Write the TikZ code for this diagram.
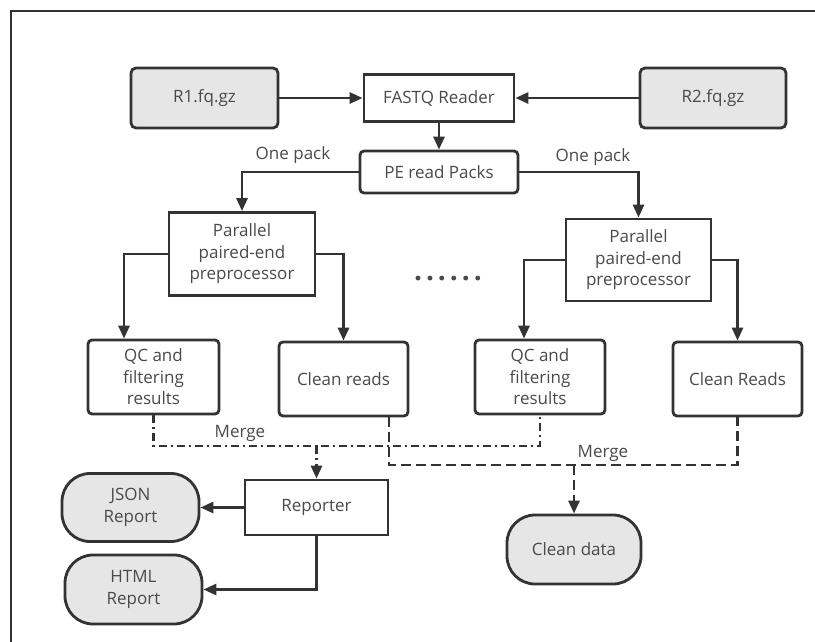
\documentclass[tikz,border=0pt]{standalone}
\usepackage{fontspec}
\setmainfont{Open Sans}
\usetikzlibrary{arrows.meta}
\definecolor{ln}{HTML}{333333}
\definecolor{tx}{HTML}{4A4A4A}
\definecolor{gf}{HTML}{E6E6E6}
\tikzset{
  base/.style={draw=ln, line width=2.8pt, text=tx, inner sep=0pt, align=center,
    font=\fontsize{17}{21.5}\selectfont},
  sq/.style={base, fill=white},
  rd/.style={base, fill=white, rounded corners=4pt},
  gr/.style={base, fill=gf, rounded corners=5pt},
  term/.style={base, fill=gf, rounded corners=28pt},
  lbl/.style={text=tx, inner sep=0pt, font=\fontsize{17}{21.5}\selectfont},
  conn/.style={draw=ln, line width=2.8pt},
  arr/.style={conn, -{Triangle[length=13pt,width=11pt]}},
  dashdotline/.style={dash pattern=on 8pt off 4pt on 2pt off 4pt},
  dashline/.style={dash pattern=on 10pt off 5pt},
}
\begin{document}
\begin{tikzpicture}[x=1pt,y=-1pt]
\useasboundingbox (0,0) rectangle (815,641);
\draw[draw=ln, line width=2.8pt] (11,645) -- (11,11) -- (819,11);

\node[gr, minimum width=147pt, minimum height=60pt] (r1) at (204.5,98) {R1.fq.gz};
\node[sq, minimum width=150pt, minimum height=47pt] (fastq) at (439,98) {FASTQ Reader};
\node[gr, minimum width=146pt, minimum height=60pt] (r2) at (713,98) {R2.fq.gz};
\node[rd, minimum width=158pt, minimum height=42pt] (pe) at (439,172) {PE read Packs};
\node[sq, minimum width=146pt, minimum height=83pt] (par1) at (242,254) {Parallel\\paired-end\\preprocessor};
\node[sq, minimum width=145pt, minimum height=82pt] (par2) at (638.5,260) {Parallel\\paired-end\\preprocessor};
\node[rd, minimum width=131pt, minimum height=74pt] (qc1) at (153.5,377) {QC and\\filtering\\results};
\node[rd, minimum width=129pt, minimum height=74pt] (cr1) at (343.5,379) {Clean reads};
\node[rd, minimum width=130pt, minimum height=74pt] (qc2) at (540,377) {QC and\\filtering\\results};
\node[rd, minimum width=129pt, minimum height=74pt] (cr2) at (737.5,379) {Clean Reads};
\node[sq, minimum width=143pt, minimum height=55pt] (rep) at (316.5,507.5) {Reporter};
\node[term, minimum width=137pt, minimum height=68pt] (json) at (130.5,507.5) {JSON\\Report};
\node[term, minimum width=137pt, minimum height=69pt] (html) at (133.5,589.5) {HTML\\Report};
\node[term, minimum width=134pt, minimum height=69pt] (clean) at (574,549.5) {Clean data};

\node[lbl] (op1) at (293,155) {One pack};
\node[lbl] (op2) at (593,157) {One pack};
\node[lbl] (mg1t) at (240,433) {Merge};
\node[lbl] (mg2t) at (603,453) {Merge};
\node[lbl, anchor=base, font=\bfseries\fontsize{28}{30}\selectfont] (dots) at (448,280) {.\kern4pt.\kern4pt.\kern4pt.\kern4pt.\kern4pt.};

\draw[arr] (r1) -- (fastq);
\draw[arr] (r2) -- (fastq);
\draw[arr] (fastq) -- (pe);
\draw[arr] (pe.west) -| (par1.north);
\draw[arr] (pe.east) -| (par2.north);
\draw[arr] (par1.west) -| ([xshift=-29.5pt]qc1.north);
\draw[arr] (par1.east) -| (cr1.north);
\draw[arr] (par2.west) -| ([xshift=-16pt]qc2.north);
\draw[arr] (par2.east) -| (cr2.north);

\coordinate (mg1) at (316.5,446);
\coordinate (mg2) at (574,465);
\draw[conn, dashdotline] (qc1.south) |- (mg1) -| (qc2.south);
\draw[arr, dashdotline] (mg1) -- (rep.north);
\draw[conn, dashline] ([xshift=45.5pt]cr1.south) |- (mg2) -| (cr2.south);
\draw[arr, dashline] (mg2) -- (clean.north);

\draw[arr] (rep.west) -- (json.east);
\draw[arr] (rep.south) |- (html.east);
\end{tikzpicture}
\end{document}
